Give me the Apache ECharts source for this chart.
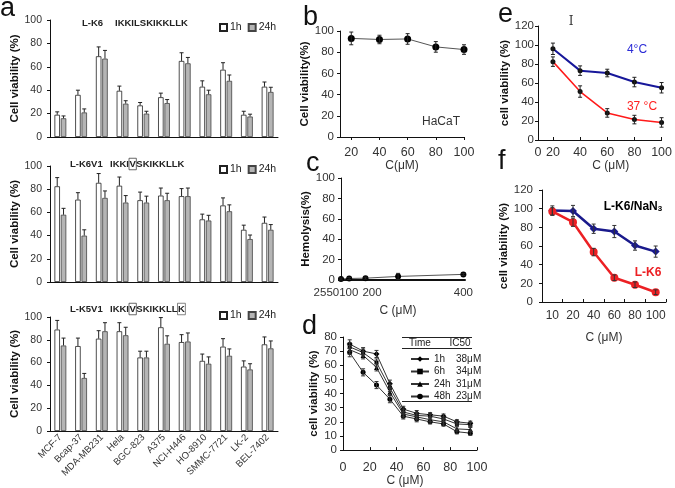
<!DOCTYPE html>
<html>
<head>
<meta charset="utf-8">
<script src="https://cdn.jsdelivr.net/npm/echarts@6/dist/echarts.min.js"></script>
<style>
html, body { margin: 0; padding: 0; background: #fff; }
#chart { width: 675px; height: 488px; }
</style>
</head>
<body>
<div id="chart"></div>
<script>
// a: cell lines, L-K6 / L-K6V1 / L-K5V1 at 1h and 24h
const cellLines = ['MCF-7', 'Bcap-37', 'MDA-MB231', 'Hela', 'BGC-823', 'A375', 'NCI-H446', 'HO-8910', 'SMMC-7721', 'LK-2', 'BEL-7402']
const k6_1h = [19, 36, 69, 39.5, 27, 34, 65, 43, 57.5, 19, 43]
const k6_1hErr = [2.5, 4, 8, 4, 2.5, 3.5, 7, 5, 6, 3, 4]
const k6_24h = [16, 21, 67, 28.5, 20, 29, 63, 36.5, 48, 17.5, 38.5]
const k6_24hErr = [2, 3, 7, 2.5, 2, 3, 5, 3.5, 5, 2, 4]
const k6v1_1h = [82.5, 71, 85.5, 83, 70.5, 74.5, 74, 54, 66, 45, 51]
const k6v1_1hErr = [7.5, 6, 8, 7.5, 7, 6.5, 6.5, 4.5, 6.5, 4, 5]
const k6v1_24h = [58, 40, 72.5, 68.5, 68.5, 70.5, 74, 53, 61, 37, 45]
const k6v1_24hErr = [5.5, 5, 6, 6, 5.5, 6, 7, 4.5, 5.5, 3.5, 4.5]
const k5v1_1h = [89, 74.5, 81, 87.5, 64.5, 91, 78, 61.5, 74, 56.5, 76]
const k5v1_1hErr = [8, 7, 7, 7.5, 5.5, 8.5, 6.5, 6, 7, 5, 6.5]
const k5v1_24h = [75, 46.5, 87.5, 84, 64.5, 76.5, 78.5, 59, 66, 54, 72.5]
const k5v1_24hErr = [6.5, 4, 7.5, 7, 5.5, 7, 7.5, 6, 6, 5, 6.5]

// b: HaCaT
const hacatConc = [20, 40, 60, 80, 100]
const hacatViab = [93, 92, 92.5, 85, 82.5]
const hacatErr = [6, 4, 5, 5, 4.5]

// c: hemolysis
const hemoConc = [25, 50, 100, 200, 400]
const hemolysis = [1, 1.5, 1.8, 3.5, 5.5]
const hemoErr = [1, 1, 1, 3, 1]
const hemoTickValues = [25, 120, 400]
const hemoTickText = ['2550100', '200', '400']

// d: time course
const dConc = [5, 15, 25, 35, 45, 55, 65, 75, 85, 95]
const d1h = [75, 70, 68, 47, 29, 26, 25, 24, 20, 19]
const d6h = [73, 69, 62, 44, 27, 24.5, 24, 22, 18.5, 18]
const d24h = [71, 67, 58.5, 41, 25.5, 23.5, 21.5, 20, 15, 14.5]
const d48h = [69, 55, 46, 36, 24, 22, 20, 18.5, 13, 12]
const dErr = [3, 2.5, 2.5, 2.5, 2, 2, 1.5, 1.5, 1.5, 1.5]
const dNames = ['d1h', 'd6h', 'd24h', 'd48h']
const dTimes = ['1h', '6h', '24h', '48h']
const dIC50 = ['38μM', '34μM', '31μM', '23μM']

// e: temperature
const tempConc = [20, 40, 60, 80, 100]
const viab4C = [96, 73, 70.5, 61, 55]
const err4C = [6, 5, 4, 5, 5.5]
const viab37C = [82.5, 51, 28.5, 21.5, 18.5]
const err37C = [5, 6, 4.5, 4.5, 5]
const eTickValues = [9, 20, 40, 60, 80, 100]
const eTickText = ['0', '20', '40', '60', '80', '100']

// f: NaN3
const nanConc = ['10', '20', '40', '60', '80', '100']
const viabNaN3 = [98, 97.5, 78.5, 75.5, 60.5, 54]
const errNaN3 = [5, 6, 5, 6.5, 5, 6]
const viabLK6 = [97, 85.5, 53.5, 26, 18.5, 10.5]
const errLK6 = [4, 4.5, 4, 3, 3, 2.5]

const FONT = 'Liberation Sans, Arial, sans-serif'
const axisLine = { show: true, lineStyle: { color: '#111', width: 1 } }

function makeYAxis(gridIndex, max, interval, name, nameGap, fontSize, margin) {
    return {
        type: 'value', gridIndex, min: 0, max, interval,
        name, nameLocation: 'middle', nameGap,
        nameTextStyle: { fontFamily: FONT, fontWeight: 'bold', fontSize: 11.5, color: '#111' },
        axisLine,
        axisTick: { show: true, length: 3, lineStyle: { color: '#111' } },
        axisLabel: { fontFamily: FONT, fontSize, color: '#333', margin },
        splitLine: { show: false },
    }
}

function barSeries(name, data, gi, color, border) {
    return {
        name, type: 'bar', xAxisIndex: gi, yAxisIndex: gi, data,
        barWidth: 5.5, barGap: '15%',
        itemStyle: { color, borderColor: border, borderWidth: 0.8 },
    }
}

// error bars drawn through the axes of the grid
function errorSeries(gi, points, dx, both, color) {
    return {
        type: 'custom', xAxisIndex: gi, yAxisIndex: gi, z: 5, silent: true,
        data: points,
        encode: { x: 0, y: 1 },
        renderItem: function (params, api) {
            const x = api.value(0)
            const v = api.value(1)
            const e = api.value(2)
            const top = api.coord([x, v + e])
            const bot = both ? api.coord([x, v - e]) : api.coord([x, v])
            const cx = top[0] + dx
            const style = { stroke: color, lineWidth: 1 }
            const kids = [
                { type: 'line', shape: { x1: cx, y1: top[1], x2: cx, y2: bot[1] }, style },
                { type: 'line', shape: { x1: cx - 2, y1: top[1], x2: cx + 2, y2: top[1] }, style },
            ]
            if (both) {
                kids.push({ type: 'line', shape: { x1: cx - 2, y1: bot[1], x2: cx + 2, y2: bot[1] }, style })
            }
            return { type: 'group', children: kids }
        },
    }
}

const pts = (xs, ys, es) => xs.map((x, i) => [x, ys[i], es[i]])
const idx = (ys, es) => ys.map((y, i) => [i, y, es[i]])
const OFF = 3.16

const aLegend = (top) => ({
    top, left: 214, itemWidth: 7, itemHeight: 7, itemGap: 6, icon: 'rect',
    textStyle: { fontFamily: FONT, fontSize: 10.5, color: '#222', padding: [0, 0, 0, -2] },
    data: ['1h', '24h'],
})

const letter = (t, x, y) => ({
    type: 'text', x, y,
    style: { text: t, font: '27px ' + FONT, fill: '#111', textAlign: 'left', textVerticalAlign: 'middle' },
})
const seqRich = {
    b: { fontFamily: FONT, fontWeight: 'bold', fontSize: 9.5, color: '#222' },
    v: { fontFamily: FONT, fontWeight: 'bold', fontSize: 9.5, color: '#222', borderColor: '#444', borderWidth: 0.8, padding: [1.5, 0.5, 0, 0.5] },
    k: { fontFamily: FONT, fontWeight: 'bold', fontSize: 9.5, color: '#ccc', borderColor: '#666', borderWidth: 0.8, padding: [1.5, 0.5, 0, 0.5] },
}
const seqText = (text, x, y) => ({
    type: 'text', x, y,
    style: { text, rich: seqRich, font: 'bold 9.5px ' + FONT, fill: '#222', textAlign: 'left', textVerticalAlign: 'middle' },
})
const plainText = (text, x, y, font, fill) => ({
    type: 'text', x, y,
    style: { text, font, fill, textAlign: 'center', textVerticalAlign: 'middle' },
})
const hLine = (x1, x2, y) => ({
    type: 'line', shape: { x1, y1: y, x2, y2: y }, style: { stroke: '#222', lineWidth: 1 },
})

const option = {
    backgroundColor: '#fff',
    animation: false,
    textStyle: { fontFamily: FONT },
    grid: [
        { left: 50, top: 20, width: 228, height: 117 },
        { left: 50, top: 166, width: 228, height: 116 },
        { left: 50, top: 317, width: 228, height: 114 },
        { left: 340, top: 31, width: 124, height: 106 },
        { left: 341, top: 178, width: 124, height: 102 },
        { left: 343, top: 337, width: 134, height: 124 },
        { left: 538, top: 26, width: 125, height: 114 },
        { left: 542, top: 190, width: 124, height: 112 },
    ],
    legend: [
        aLegend(17),
        aLegend(159),
        aLegend(305),
        {
            orient: 'vertical', left: 405, top: 349, itemWidth: 18, itemHeight: 7, itemGap: 2.5,
            data: dNames,
            formatter: (name) => {
                const i = dNames.indexOf(name)
                return `{t|${dTimes[i]}}{v|${dIC50[i]}}`
            },
            textStyle: {
                fontFamily: FONT, fontSize: 10, color: '#222',
                rich: {
                    t: { fontFamily: FONT, fontSize: 10, color: '#222', width: 22 },
                    v: { fontFamily: FONT, fontSize: 10, color: '#222' },
                },
            },
        },
    ],
    xAxis: [
        { type: 'category', gridIndex: 0, data: cellLines, axisLine, axisTick: { show: false }, axisLabel: { show: false } },
        { type: 'category', gridIndex: 1, data: cellLines, axisLine, axisTick: { show: false }, axisLabel: { show: false } },
        {
            type: 'category', gridIndex: 2, data: cellLines, axisLine, axisTick: { show: false },
            axisLabel: { interval: 0, rotate: 45, fontFamily: FONT, fontSize: 9.5, color: '#333', margin: 5 },
        },
        {
            type: 'value', gridIndex: 3, min: 12, max: 100, axisLine, splitLine: { show: false },
            name: 'C(μM)', nameLocation: 'middle', nameGap: 22,
            nameTextStyle: { fontFamily: FONT, fontSize: 12, color: '#333' },
            axisTick: { show: true, length: 3, customValues: hacatConc, lineStyle: { color: '#111' } },
            axisLabel: { customValues: hacatConc, fontFamily: FONT, fontSize: 12.5, color: '#333', margin: 9 },
        },
        {
            type: 'value', gridIndex: 4, min: 25, max: 405, splitLine: { show: false },
            axisLine: { show: true, lineStyle: { color: '#111', width: 2 } },
            name: 'C (μM)', nameLocation: 'middle', nameGap: 25,
            nameTextStyle: { fontFamily: FONT, fontSize: 12, color: '#333', padding: [0, 10, 0, 0] },
            axisTick: { show: false },
            axisLabel: {
                customValues: hemoTickValues, showMinLabel: true, fontFamily: FONT, fontSize: 11.5, color: '#333', margin: 7,
                formatter: (v) => {
                    const i = hemoTickValues.indexOf(v)
                    return i === 0 ? `{l|${hemoTickText[i]}}` : hemoTickText[i]
                },
                rich: { l: { fontFamily: FONT, fontSize: 11.5, color: '#333', padding: [0, 10, 0, 0] } },
            },
        },
        {
            type: 'value', gridIndex: 5, min: 0, max: 100, interval: 20, axisLine, splitLine: { show: false },
            name: 'C (μM)', nameLocation: 'middle', nameGap: 17,
            nameTextStyle: { fontFamily: FONT, fontSize: 12, color: '#333', padding: [0, 10, 0, 0] },
            axisTick: { show: true, inside: true, length: 3, lineStyle: { color: '#111' } },
            axisLabel: { fontFamily: FONT, fontSize: 12.5, color: '#333', margin: 11 },
        },
        {
            type: 'value', gridIndex: 6, min: 9, max: 100, axisLine, splitLine: { show: false },
            name: 'C (μM)', nameLocation: 'middle', nameGap: 18,
            nameTextStyle: { fontFamily: FONT, fontSize: 12, color: '#333', padding: [0, 0, 0, 22] },
            axisTick: { show: true, inside: true, length: 3, customValues: eTickValues.slice(1), lineStyle: { color: '#111' } },
            axisLabel: {
                customValues: eTickValues, showMinLabel: true, fontFamily: FONT, fontSize: 12.5, color: '#333', margin: 6,
                formatter: (v) => eTickText[eTickValues.indexOf(v)],
            },
        },
        {
            type: 'category', gridIndex: 7, data: nanConc, axisLine,
            name: 'C (μM)', nameLocation: 'middle', nameGap: 30,
            nameTextStyle: { fontFamily: FONT, fontSize: 12, color: '#333' },
            axisTick: { show: true, inside: true, length: 3, lineStyle: { color: '#111' } },
            axisLabel: { interval: 0, hideOverlap: false, fontFamily: FONT, fontSize: 12, color: '#333', margin: 8 },
        },
    ],
    yAxis: [
        makeYAxis(0, 100, 20, 'Cell viability (%)', 29, 10.5, 8),
        makeYAxis(1, 100, 20, 'Cell viability (%)', 29, 10.5, 8),
        makeYAxis(2, 100, 20, 'Cell viability (%)', 29, 10.5, 8),
        makeYAxis(3, 100, 20, 'Cell viability(%)', 22, 11.5, 6),
        makeYAxis(4, 100, 20, 'Hemolysis(%)', 26, 11.5, 6),
        makeYAxis(5, 80, 10, 'cell viability (%)', 20, 11.5, 6),
        makeYAxis(6, 120, 20, 'cell viability (%)', 26, 11.5, 4),
        makeYAxis(7, 120, 20, 'cell viability (%)', 31, 11.5, 9),
    ],
    series: [
        barSeries('1h', k6_1h, 0, '#fff', '#222'),
        barSeries('24h', k6_24h, 0, '#b5b5b5', '#444'),
        errorSeries(0, idx(k6_1h, k6_1hErr), -OFF, false, '#222'),
        errorSeries(0, idx(k6_24h, k6_24hErr), OFF, false, '#222'),
        barSeries('1h', k6v1_1h, 1, '#fff', '#222'),
        barSeries('24h', k6v1_24h, 1, '#b5b5b5', '#444'),
        errorSeries(1, idx(k6v1_1h, k6v1_1hErr), -OFF, false, '#222'),
        errorSeries(1, idx(k6v1_24h, k6v1_24hErr), OFF, false, '#222'),
        barSeries('1h', k5v1_1h, 2, '#fff', '#222'),
        barSeries('24h', k5v1_24h, 2, '#b5b5b5', '#444'),
        errorSeries(2, idx(k5v1_1h, k5v1_1hErr), -OFF, false, '#222'),
        errorSeries(2, idx(k5v1_24h, k5v1_24hErr), OFF, false, '#222'),
        {
            name: 'HaCaT', type: 'line', xAxisIndex: 3, yAxisIndex: 3,
            data: hacatConc.map((c, i) => [c, hacatViab[i]]),
            symbol: 'circle', symbolSize: 7,
            lineStyle: { color: '#555', width: 1 }, itemStyle: { color: '#000' },
        },
        errorSeries(3, pts(hacatConc, hacatViab, hacatErr), 0, true, '#222'),
        {
            name: 'Hemolysis', type: 'line', xAxisIndex: 4, yAxisIndex: 4,
            data: hemoConc.map((c, i) => [c, hemolysis[i]]),
            symbol: 'circle', symbolSize: 6,
            lineStyle: { color: '#555', width: 1 }, itemStyle: { color: '#000' },
        },
        errorSeries(4, pts(hemoConc, hemolysis, hemoErr), 0, true, '#222'),
        ...[d1h, d6h, d24h, d48h].map((ys, k) => ({
            name: dNames[k], type: 'line', xAxisIndex: 5, yAxisIndex: 5,
            data: dConc.map((c, i) => [c, ys[i]]),
            symbol: ['diamond', 'rect', 'triangle', 'circle'][k],
            symbolSize: [6, 4, 5, 5][k],
            lineStyle: { color: '#333', width: 1 }, itemStyle: { color: '#000' },
        })),
        ...[d1h, d6h, d24h, d48h].map((ys) => errorSeries(5, pts(dConc, ys, dErr), 0, true, '#333')),
        {
            name: '4°C', type: 'line', xAxisIndex: 6, yAxisIndex: 6,
            data: tempConc.map((c, i) => [c, viab4C[i]]),
            symbol: 'circle', symbolSize: 5,
            lineStyle: { color: '#17179a', width: 2 }, itemStyle: { color: '#111' },
        },
        {
            name: '37 °C', type: 'line', xAxisIndex: 6, yAxisIndex: 6,
            data: tempConc.map((c, i) => [c, viab37C[i]]),
            symbol: 'circle', symbolSize: 5,
            lineStyle: { color: '#ff1a1a', width: 1.5 }, itemStyle: { color: '#111' },
        },
        errorSeries(6, pts(tempConc, viab4C, err4C), 0, true, '#222'),
        errorSeries(6, pts(tempConc, viab37C, err37C), 0, true, '#222'),
        {
            name: 'L-K6/NaN3', type: 'line', xAxisIndex: 7, yAxisIndex: 7,
            data: viabNaN3, symbol: 'diamond', symbolSize: 8,
            lineStyle: { color: '#1a1a8c', width: 2.5 }, itemStyle: { color: '#1a1a8c' },
        },
        {
            name: 'L-K6', type: 'line', xAxisIndex: 7, yAxisIndex: 7,
            data: viabLK6, symbol: 'circle', symbolSize: 8,
            lineStyle: { color: '#ec2024', width: 2.5 }, itemStyle: { color: '#ec2024' },
        },
        errorSeries(7, idx(viabNaN3, errNaN3), 0, true, '#333'),
        errorSeries(7, idx(viabLK6, errLK6), 0, true, '#333'),
    ],
    graphic: [
        letter('a', 0, 9),
        letter('b', 303, 18),
        letter('c', 306, 164),
        letter('d', 302, 327),
        letter('e', 498, 15),
        letter('f', 498, 162),
        seqText('{b|L-K6}', 82, 23.5),
        seqText('{b|IKKILSKIKKLLK}', 115, 23.5),
        seqText('{b|L-K6V1}', 70, 164),
        seqText('{b|IKKI}{v|V}{b|SKIKKLLK}', 110, 164),
        seqText('{b|L-K5V1}', 70, 309),
        seqText('{b|IKKI}{v|V}{b|SKIKKLL}{k|K}', 110, 309),
        plainText('HaCaT', 441, 121.5, '12px ' + FONT, '#333'),
        hLine(402, 472, 337.5),
        hLine(402, 472, 348.5),
        hLine(402, 472, 401.5),
        plainText('Time', 420, 343.5, '10px ' + FONT, '#222'),
        plainText('IC50', 460, 343.5, '10px ' + FONT, '#222'),
        plainText('I', 571, 22, '12px DejaVu Serif', '#333'),
        plainText('4°C', 637, 49.5, '12px ' + FONT, '#2b2bd6'),
        plainText('37 °C', 642, 107, '12px ' + FONT, '#ff2020'),
        {
            type: 'text', x: 633, y: 206,
            style: {
                text: '{a|L-K6/NaN}{s|3}',
                textAlign: 'center', textVerticalAlign: 'middle',
                rich: {
                    a: { fontFamily: FONT, fontWeight: 'bold', fontSize: 12, color: '#1a1a8c', lineHeight: 14, verticalAlign: 'bottom' },
                    s: { fontFamily: FONT, fontWeight: 'bold', fontSize: 8, color: '#1a1a8c', lineHeight: 10, verticalAlign: 'bottom' },
                },
            },
        },
        plainText('L-K6', 648, 272.5, 'bold 12px ' + FONT, '#ec2024'),
    ],
}

const chart = echarts.init(document.getElementById('chart'))
chart.setOption(option)
</script>
</body>
</html>
